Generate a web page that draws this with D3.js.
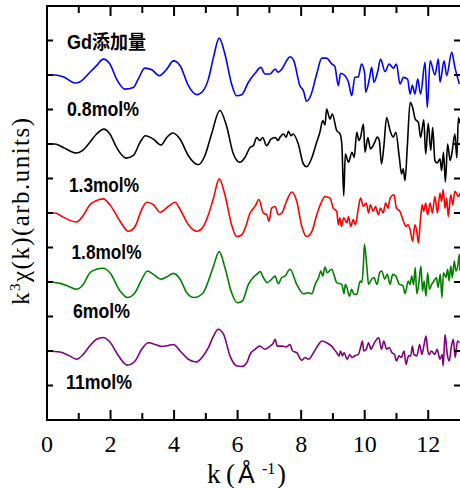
<!DOCTYPE html>
<html>
<head>
<meta charset="utf-8">
<script src="https://cdn.jsdelivr.net/npm/d3@7"></script>
<style>
  body { margin: 0; background: #fff; }
  svg { display: block; }
</style>
</head>
<body>
<svg id="chart" width="460" height="488"></svg>
<script>
// k (1/A) and k3chi values, chi in y-tick units relative to each curve's baseline
const seriesNames = ["0.8mol%", "1.3mol%", "1.8mol%", "6mol%", "11mol%"];
const seriesColors = ["#0000ff", "#000000", "#ff0000", "#008000", "#800080"];
const seriesOffsets = [10, 8, 6, 4, 2];
const headerLabel = "Gd添加量";

const xMajorTicks = [0, 2, 4, 6, 8, 10, 12];
const xMinorTicks = [1, 3, 5, 7, 9, 11];
const yTicks = [1, 2, 3, 4, 5, 6, 7, 8, 9, 10, 11];

const mol08 = [[0,0],[0.25,0],[0.51,-0.05],[0.88,-0.23],[1.03,-0.2],[1.35,0.08],[1.56,0.27],[1.77,0.46],[1.98,0.32],[2.19,-0.12],[2.45,-0.41],[2.72,-0.36],[2.87,-0.12],[3.08,0.2],[3.3,0.15],[3.54,-0.02],[3.77,0.17],[3.98,0.41],[4.19,0.27],[4.45,-0.31],[4.71,-0.57],[4.92,-0.45],[5.08,-0.12],[5.24,0.51],[5.42,1.07],[5.6,0.61],[5.81,-0.26],[5.97,-0.6],[6.13,-0.57],[6.34,-0.21],[6.55,0.05],[6.73,0.22],[6.86,0.03],[7.02,0.03],[7.18,0.17],[7.28,0.08],[7.39,0.17],[7.54,0.41],[7.65,0.53],[7.77,0.41],[7.96,-0.31],[8.07,-0.45],[8.17,-0.76],[8.3,-0.6],[8.49,0.03],[8.65,0.49],[8.8,0.49],[8.96,0.32],[9.06,0.25],[9.17,-0.31],[9.24,0.05],[9.38,-0.02],[9.49,-0.21],[9.59,-0.6],[9.69,-0.07],[9.8,-0.05],[9.9,0.32],[10.0,0.05],[10.03,-0.5],[10.15,-0.1],[10.22,0.22],[10.29,-0.21],[10.41,0.1],[10.5,0.46],[10.64,0.1],[10.77,0.32],[10.9,0.2],[11.0,0.32],[11.11,-0.26],[11.22,-0.07],[11.35,-0.12],[11.43,-0.55],[11.5,-0.3],[11.58,-0.55],[11.67,-0.12],[11.76,-0.55],[11.9,0.37],[11.97,-0.94],[12.06,0.41],[12.21,0.0],[12.32,0.46],[12.37,-0.21],[12.5,0.41],[12.58,-0.02],[12.74,0.66],[12.84,0.22],[12.98,-0.26]];

const mol13 = [[0,0],[0.25,0],[0.51,-0.1],[0.93,-0.26],[1.1,-0.2],[1.35,0.05],[1.56,0.29],[1.79,0.43],[1.98,0.29],[2.19,-0.1],[2.49,-0.41],[2.72,-0.33],[2.93,0.05],[3.1,0.24],[3.35,0.14],[3.59,-0.03],[3.77,0.19],[3.96,0.32],[4.19,0.14],[4.45,-0.34],[4.76,-0.6],[4.97,-0.34],[5.18,0.29],[5.44,0.97],[5.65,0.53],[5.86,-0.27],[6.07,-0.53],[6.23,-0.39],[6.39,-0.1],[6.5,-0.04],[6.6,0.19],[6.7,0.1],[6.79,0.19],[6.91,-0.05],[7.05,0.14],[7.19,0.19],[7.27,0.1],[7.33,0.19],[7.44,0.29],[7.53,0.2],[7.6,0.37],[7.68,0.24],[7.75,0.29],[7.91,0],[8.07,-0.58],[8.17,-0.66],[8.34,-0.39],[8.47,0],[8.59,0.34],[8.68,0.68],[8.75,0.55],[8.8,1.01],[8.91,0.72],[8.98,0.87],[9.12,0.39],[9.22,0.3],[9.28,0],[9.34,-1.5],[9.39,-0.29],[9.49,-0.53],[9.6,-0.24],[9.67,-0.39],[9.75,0.34],[9.82,0.1],[9.87,0.2],[9.96,0.58],[10.01,-0.24],[10.1,0.19],[10.18,-0.14],[10.29,0],[10.4,0.2],[10.46,0.1],[10.53,-0.58],[10.6,-0.1],[10.69,0.77],[10.8,0.39],[10.9,0.2],[10.98,0.34],[11.09,-0.39],[11.16,-0.87],[11.21,-0.72],[11.27,-1.06],[11.34,-0.1],[11.43,1.2],[11.51,1.06],[11.59,0.72],[11.69,0.63],[11.76,0.19],[11.86,0.7],[11.92,-0.29],[12.0,0.6],[12.08,-0.19],[12.14,0.48],[12.21,-0.48],[12.28,-0.55],[12.37,-0.43],[12.42,-0.77],[12.48,-0.24],[12.54,-1.1],[12.61,0],[12.69,-0.48],[12.74,-0.29],[12.84,0.29],[12.9,-0.4],[12.95,0.77],[13.0,0.6]];

const mol18 = [[0,0],[0.25,0],[0.51,-0.12],[0.93,-0.26],[1.14,-0.07],[1.35,0.24],[1.51,0.34],[1.77,0.41],[1.98,0.24],[2.3,-0.24],[2.56,-0.53],[2.77,-0.39],[2.98,0.1],[3.14,0.31],[3.35,0.24],[3.56,0.02],[3.82,0.19],[4.03,0.31],[4.19,0.1],[4.45,-0.34],[4.71,-0.53],[4.92,-0.39],[5.08,-0.05],[5.24,0.43],[5.42,0.99],[5.6,0.53],[5.81,-0.34],[5.97,-0.68],[6.13,-0.63],[6.24,-0.43],[6.39,0],[6.55,0.19],[6.67,0.39],[6.81,0],[6.92,-0.05],[6.99,-0.24],[7.07,0.14],[7.18,0.19],[7.28,-0.05],[7.39,0],[7.54,0.34],[7.7,0.61],[7.86,0.34],[8.02,-0.39],[8.17,-0.68],[8.34,-0.53],[8.49,-0.05],[8.65,0.34],[8.75,0.48],[8.91,0.43],[9.01,0.14],[9.12,0.05],[9.17,-0.34],[9.22,-0.14],[9.27,-0.39],[9.34,-0.14],[9.44,-0.29],[9.49,-0.1],[9.56,-0.39],[9.64,-0.19],[9.71,-0.34],[9.8,0.14],[9.87,0.43],[9.96,0.19],[10.05,0.29],[10.12,0],[10.18,0.24],[10.27,0.05],[10.34,0.19],[10.43,-0.05],[10.5,0.14],[10.58,0],[10.66,0.29],[10.73,0.14],[10.8,0.43],[10.92,0.53],[11.0,0.14],[11.11,0.05],[11.22,-0.24],[11.3,-0.39],[11.36,-0.34],[11.43,-0.48],[11.51,-0.82],[11.58,-0.34],[11.64,-0.53],[11.69,-0.87],[11.76,-0.14],[11.81,0.24],[11.86,0.05],[11.92,0.29],[11.98,-0.05],[12.06,0.29],[12.13,0],[12.21,0.48],[12.29,0],[12.37,0.58],[12.42,0.34],[12.47,0.68],[12.53,0.14],[12.58,0.43],[12.63,-0.1],[12.71,0.53],[12.77,0.24],[12.84,0.63],[12.95,0.48],[13.0,0.58]];

const mol6 = [[0,0],[0.41,-0.04],[0.67,-0.12],[0.93,-0.21],[1.14,-0.07],[1.35,0.27],[1.56,0.37],[1.77,0.4],[1.98,0.27],[2.3,-0.26],[2.53,-0.45],[2.77,-0.31],[2.98,0.07],[3.16,0.32],[3.35,0.22],[3.58,0.08],[3.77,0.15],[3.98,0.25],[4.19,0.08],[4.4,-0.31],[4.63,-0.45],[4.92,-0.31],[5.08,0.03],[5.24,0.46],[5.42,0.88],[5.6,0.42],[5.81,-0.31],[5.99,-0.6],[6.15,-0.55],[6.34,-0.07],[6.49,0.13],[6.6,0.22],[6.71,0.3],[6.81,0.13],[6.93,-0.02],[7.07,0.08],[7.18,0.17],[7.28,-0.05],[7.39,0.13],[7.49,0.17],[7.65,0.37],[7.86,-0.07],[8.07,-0.34],[8.23,-0.31],[8.34,-0.34],[8.44,-0.07],[8.55,0.13],[8.62,0.32],[8.68,0.17],[8.75,0.43],[8.82,0.27],[8.96,0.37],[9.03,0.22],[9.12,-0.02],[9.28,-0.07],[9.35,-0.34],[9.39,-0.07],[9.44,-0.16],[9.52,-0.41],[9.59,-0.21],[9.66,-0.36],[9.75,-0.36],[9.86,0.03],[9.91,-0.02],[9.96,0.51],[9.99,1.09],[10.07,0.42],[10.12,-0.07],[10.22,0.08],[10.29,0.13],[10.39,-0.07],[10.47,0.27],[10.54,0.32],[10.63,0.08],[10.71,0.22],[10.8,-0.07],[10.88,0.22],[10.98,0.17],[11.09,-0.07],[11.2,-0.1],[11.27,-0.34],[11.37,0.03],[11.43,-0.07],[11.48,0.17],[11.54,-0.07],[11.59,0.42],[11.64,-0.34],[11.7,-0.07],[11.77,0.46],[11.82,-0.26],[11.87,0.03],[11.93,-0.41],[11.98,0.27],[12.04,-0.21],[12.11,-0.07],[12.18,0.03],[12.26,0.13],[12.31,-0.16],[12.38,0.22],[12.43,-0.45],[12.48,0.27],[12.56,0.13],[12.61,0.37],[12.66,0.03],[12.71,0.46],[12.76,0.13],[12.82,0.61],[12.87,0.32],[12.93,0.46],[12.98,0.8],[13.0,0.32]];

const mol11 = [[0,0],[0.41,-0.03],[0.67,-0.12],[0.93,-0.24],[1.14,-0.1],[1.35,0.15],[1.56,0.34],[1.77,0.39],[1.98,0.26],[2.25,-0.14],[2.53,-0.41],[2.77,-0.29],[2.98,0.05],[3.19,0.24],[3.4,0.19],[3.61,0.13],[3.82,0.16],[3.98,0.19],[4.19,0],[4.45,-0.24],[4.71,-0.32],[4.92,-0.14],[5.08,0.1],[5.24,0.43],[5.39,0.63],[5.56,0.48],[5.76,-0.14],[5.97,-0.43],[6.13,-0.45],[6.29,-0.34],[6.39,-0.1],[6.55,0.05],[6.7,0.14],[6.86,0.05],[7.02,0.14],[7.11,0.21],[7.18,0.34],[7.25,0.14],[7.39,0.14],[7.54,0.12],[7.65,0.19],[7.73,0],[7.86,-0.05],[8.02,-0.27],[8.12,-0.19],[8.23,-0.24],[8.39,-0.05],[8.55,0.19],[8.65,0.29],[8.8,0.24],[8.96,0.14],[9.12,-0.05],[9.2,-0.14],[9.24,0],[9.3,-0.14],[9.35,-0.05],[9.45,-0.24],[9.53,-0.1],[9.6,-0.19],[9.69,-0.14],[9.8,-0.1],[9.88,0.14],[9.93,0.29],[9.97,0],[10.05,0.05],[10.12,0.24],[10.2,0.05],[10.25,0.14],[10.38,0.34],[10.44,0.39],[10.53,0.05],[10.6,0.29],[10.69,0.05],[10.77,0.1],[10.86,-0.05],[10.94,-0.1],[11.0,-0.29],[11.08,-0.14],[11.15,-0.19],[11.24,0],[11.3,-0.39],[11.38,-0.14],[11.45,-0.14],[11.5,0.14],[11.55,-0.1],[11.64,-0.14],[11.73,0.19],[11.8,-0.1],[11.87,0.19],[11.93,0.43],[11.98,0.05],[12.03,-0.1],[12.1,0],[12.21,-0.1],[12.28,0.05],[12.37,-0.24],[12.44,-0.1],[12.47,-0.43],[12.53,0.48],[12.6,-0.1],[12.66,-0.29],[12.73,0.14],[12.79,0.34],[12.85,-0.19],[12.92,0.29],[12.98,0.24]];

const seriesData = [mol08, mol13, mol18, mol6, mol11];

function drawChart() {
  const svg = d3.select("#chart");
  svg.selectAll("*").remove();

  const left = 47, right = 460, top = 6, bottom = 420;

  const x = d3.scaleLinear().domain([0, 13]).range([left, right]);
  const y = d3.scaleLinear().domain([0, 12]).range([bottom, top]);

  svg.append("defs").append("clipPath").attr("id", "plotClip")
    .append("rect")
    .attr("x", left).attr("y", top)
    .attr("width", right - left).attr("height", bottom - top);

  // curves
  const plot = svg.append("g").attr("clip-path", "url(#plotClip)");
  seriesData.forEach((data, i) => {
    const line = d3.line()
      .x(d => x(d[0]))
      .y(d => y(seriesOffsets[i] + d[1]))
      .curve(d3.curveMonotoneX);
    plot.append("path")
      .datum(data)
      .attr("d", line)
      .attr("fill", "none")
      .attr("stroke", seriesColors[i])
      .attr("stroke-width", 1.6)
      .attr("stroke-linejoin", "round");
  });

  // frame
  const axis = svg.append("g").attr("stroke", "#000").attr("stroke-width", 2);
  axis.append("line").attr("x1", left).attr("x2", right).attr("y1", bottom).attr("y2", bottom);
  axis.append("line").attr("x1", left).attr("x2", right).attr("y1", top).attr("y2", top);
  axis.append("line").attr("x1", left).attr("x2", left).attr("y1", top - 1).attr("y2", bottom + 1);
  axis.append("line").attr("x1", right + 1).attr("x2", right + 1).attr("y1", top).attr("y2", bottom);

  // ticks, all pointing inward
  xMajorTicks.concat(xMinorTicks).forEach(t => {
    const len = xMajorTicks.includes(t) ? 10 : 7;
    axis.append("line").attr("x1", x(t)).attr("x2", x(t)).attr("y1", bottom).attr("y2", bottom - len);
    axis.append("line").attr("x1", x(t)).attr("x2", x(t)).attr("y1", top).attr("y2", top + len);
  });
  yTicks.forEach(t => {
    axis.append("line").attr("x1", left).attr("x2", left + 6).attr("y1", y(t)).attr("y2", y(t));
    axis.append("line").attr("x1", right).attr("x2", right - 6).attr("y1", y(t)).attr("y2", y(t));
  });

  // tick labels
  svg.append("g")
    .selectAll("text")
    .data(xMajorTicks)
    .enter()
    .append("text")
    .attr("x", d => x(d))
    .attr("y", 452)
    .attr("text-anchor", "middle")
    .attr("font-family", "'Liberation Serif', 'DejaVu Serif', serif")
    .attr("font-size", 24)
    .text(d => d);

  // x title k(Å-1)
  const xt = svg.append("text")
    .attr("y", 483)
    .attr("font-family", "'Liberation Serif', serif")
    .attr("font-size", 27);
  xt.append("tspan").attr("x", 207).text("k");
  xt.append("tspan").attr("x", 226).text("(");
  xt.append("tspan").attr("x", 238).attr("font-family", "'Liberation Sans', sans-serif").attr("font-size", 25).text("Å");
  xt.append("tspan").attr("x", 262).attr("dy", -9).attr("font-size", 16).text("-1");
  xt.append("tspan").attr("x", 277).attr("dy", 9).text(")");

  // y title
  const yt = svg.append("text")
    .attr("transform", "translate(29,305) rotate(-90)")
    .attr("font-family", "'Liberation Serif', serif")
    .attr("font-size", 25)
    .attr("textLength", 187)
    .attr("lengthAdjust", "spacing");
  yt.append("tspan").text("k");
  yt.append("tspan").attr("dy", -9).attr("font-size", 15).text("3");
  yt.append("tspan").attr("dy", 9).text("χ(k)(arb.units)");

  // curve labels
  const labels = [headerLabel].concat(seriesNames);
  const labelPos = [[67, 49, 79], [67, 116, 72], [69, 192, 70], [71.5, 259, 70], [73, 318, 57], [66, 389, 66]];
  svg.append("g")
    .selectAll("text")
    .data(labels)
    .enter()
    .append("text")
    .attr("x", (d, i) => labelPos[i][0])
    .attr("y", (d, i) => labelPos[i][1])
    .attr("textLength", (d, i) => labelPos[i][2])
    .attr("lengthAdjust", "spacingAndGlyphs")
    .attr("font-family", "'Liberation Sans', 'Noto Sans CJK JP', sans-serif")
    .attr("font-weight", "bold")
    .attr("font-size", 19.5)
    .text(d => d);
}

drawChart();
</script>
</body>
</html>
